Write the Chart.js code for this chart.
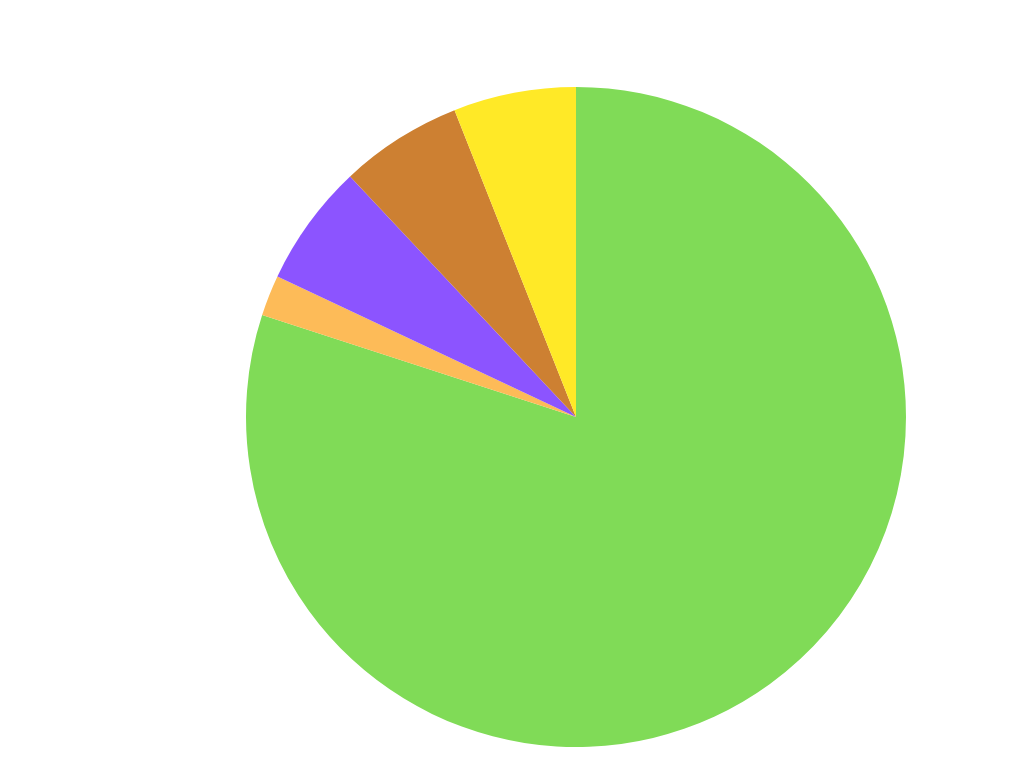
<!DOCTYPE html>
<html>
<head>
<meta charset="utf-8">
<script src="https://cdn.jsdelivr.net/npm/chart.js@4"></script>
<style>
  html, body { margin: 0; padding: 0; background: #fff; }
  #wrap { width: 1024px; height: 768px; }
</style>
</head>
<body>
<div id="wrap"><canvas id="pie"></canvas></div>
<script>
const labels = ['A', 'B', 'C', 'D', 'E']
const values = [80, 2, 6, 6, 6]
const colors = ['#80db57', '#fdbb58', '#8c54ff', '#cd8032', '#ffe927']

const config = {
  type: 'pie',
  data: {
    labels: labels,
    datasets: [{
      data: values,
      backgroundColor: colors,
      borderWidth: 0
    }]
  },
  options: {
    responsive: true,
    maintainAspectRatio: false,
    animation: false,
    layout: {
      padding: { left: 128, right: 0, top: 87, bottom: 21 }
    },
    plugins: {
      legend: { display: false },
      tooltip: { enabled: false }
    }
  }
}

new Chart(document.getElementById('pie'), config)
</script>
</body>
</html>
